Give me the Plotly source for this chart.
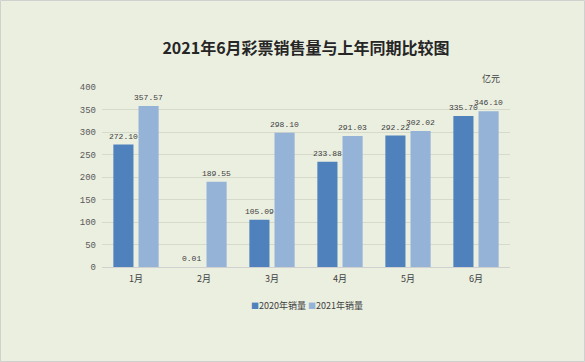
import plotly.graph_objects as go

months = ["1月", "2月", "3月", "4月", "5月", "6月"]
sales_2020 = [272.10, 0.01, 105.09, 233.88, 292.22, 335.70]
sales_2021 = [357.57, 189.55, 298.10, 291.03, 302.02, 346.10]
y_ticks = [0, 50, 100, 150, 200, 250, 300, 350, 400]
series_names = ["2020年销量", "2021年销量"]
series_colors = ["#4F81BD", "#95B3D7"]

font_cjk = "Noto Sans CJK SC, DejaVu Sans, sans-serif"
mono = "Liberation Mono, DejaVu Sans Mono, monospace"

L, R, T, B = 102, 75, 87, 95
W, H = 585, 362
pw, ph = W - L - R, H - T - B

fig = go.Figure()
for name, vals, col in zip(series_names, (sales_2020, sales_2021), series_colors):
    fig.add_trace(go.Bar(name=name, x=months, y=vals, showlegend=False,
                         marker=dict(color=col, line=dict(width=0))))

annotations = []
for series, shift in ((sales_2020, -12.5), (sales_2021, 12.5)):
    for m, v in zip(months, series):
        annotations.append(dict(x=m, y=v, xref="x", yref="y", text=f"{v:.2f}",
                                showarrow=False, xshift=shift, yshift=2,
                                yanchor="bottom", xanchor="center",
                                font=dict(family=mono, size=8, color="#404040")))
annotations.append(dict(text="亿元", x=0.98, xref="paper", y=1 + 9 / ph, yref="paper",
                        xanchor="right", yanchor="middle", showarrow=False,
                        font=dict(family=font_cjk, size=9, color="#404040")))
legend_text = " ".join(
    f"<span style='color:{c};font-size:8px'>■</span>{n}" for n, c in zip(series_names, series_colors))
annotations.append(dict(text=legend_text, x=(307 - L) / pw, xref="paper",
                        y=-(305 - 267) / ph, yref="paper", xanchor="center", yanchor="middle",
                        showarrow=False, font=dict(family=font_cjk, size=9, color="#404040")))

fig.update_layout(
    width=W, height=H,
    paper_bgcolor="#EBEFE0", plot_bgcolor="#EBEFE0",
    margin=dict(l=L, r=R, t=T, b=B),
    barmode="group", bargap=0.26, bargroupgap=0.2,
    showlegend=False,
    title=dict(text="<b>2021年6月彩票销售量与上年同期比较图</b>", x=0.5, xref="paper",
               xanchor="center", y=1 - 48 / H, yanchor="middle",
               font=dict(family=font_cjk, size=16, color="#262626")),
    xaxis=dict(showline=True, linecolor="#D0D0D0", linewidth=1, ticks="",
               ticklabelstandoff=3,
               tickfont=dict(family=font_cjk, size=9, color="#404040")),
    yaxis=dict(range=[0, 400], tickvals=y_ticks, showgrid=True, gridcolor="#D6DACB",
               gridwidth=1, zeroline=False, ticks="", ticklabelstandoff=5,
               tickfont=dict(family=mono, size=9, color="#595959")),
    annotations=annotations,
    shapes=[dict(type="rect", xref="paper", yref="paper",
                 x0=-(L - 0.5) / pw, x1=1 + (R - 0.5) / pw,
                 y0=-(B - 0.5) / ph, y1=1 + (T - 0.5) / ph,
                 line=dict(width=1, color="#D0D0D0"), layer="below")],
)

fig.write_html("out.html", config={"displayModeBar": False},
               post_script="document.body.style.margin='0';")
